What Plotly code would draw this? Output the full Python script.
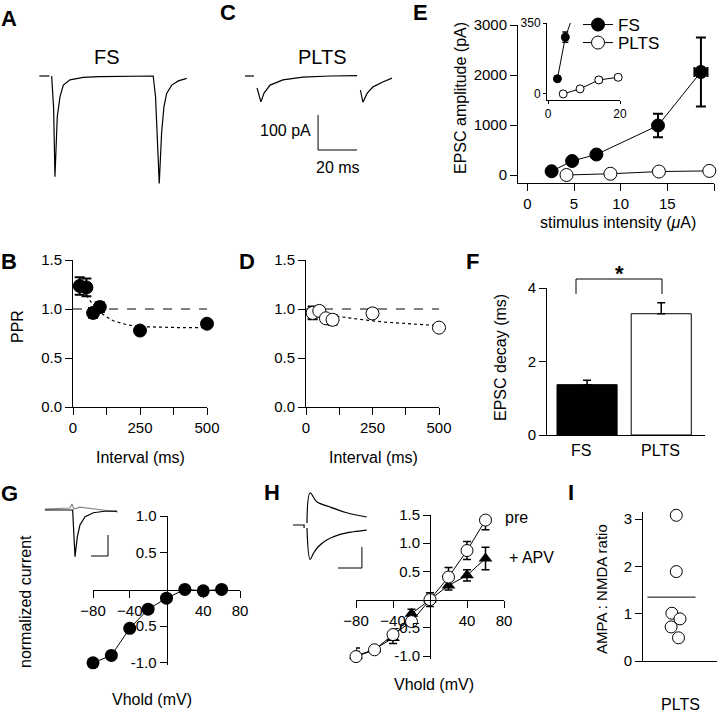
import plotly.graph_objects as go

W, H = 720, 712
FONT = "Liberation Sans, Arial, sans-serif"

# ---------------- data ----------------
# Panel A: FS example EPSC pair (time ms, current pA)
fs_base_t = [-7.0, -1.9]
fs_base_i = [0, 0]
fs_t = [-0.7, 0.3, 1.0, 1.6, 2.2, 3.6, 5.3, 8.7, 15.5, 24, 35, 45, 51.4, 52.6, 53.6, 54.5,
        55.7, 56.9, 58.3, 60.9, 64.3, 68.6]
fs_i = [0, -90, -288, -200, -116, -59, -26, -11, -4, -2, -1, 0, 0, -60, -220, -307,
        -163, -88, -50, -26, -14, -7]

# Panel C: PLTS example EPSC pair
plts_base_t = [-6.7, -2.1]
plts_base_i = [0, 0]
plts_t = [-0.5, 1.5, 3.1, 6.2, 12.8, 23, 37, 50.8, None, 52.5, 53.8, 56, 59, 64, 68.7]
plts_i = [-34, -74, -49, -26, -11, -3, 0, 1, None, -40, -75, -49, -31, -17, -6]
scale_t = [30.8, 30.8, 50.8]          # 20 ms
scale_i = [-111.4, -211.4, -211.4]    # 100 pA

# Panel E: EPSC amplitude vs stimulus intensity
fs_stim = [2.6, 4.8, 7.4, 14.0, 18.6]
fs_amp = [75, 280, 410, 990, 2060]
fs_amp_err = [12, 25, 30, 235, 690]
fs_stim_err = [0.1, 0.1, 0.1, 0.2, 0.7]
plts_stim = [4.2, 8.9, 14.1, 19.5]
plts_amp = [0, 25, 69, 82]
plts_amp_err = [8, 8, 12, 10]
plts_stim_err = [0.1, 0.2, 0.5, 0.5]

# Panels B / D: paired-pulse ratio
interval = [25, 50, 75, 100, 250, 500]
fs_ppr = [1.235, 1.22, 0.96, 1.02, 0.78, 0.85]
fs_ppr_err = [0.09, 0.09, 0.05, 0.05, 0.03, 0.02]
plts_ppr = [0.96, 0.98, 0.905, 0.89, 0.955, 0.81]
plts_ppr_err = [0.065, 0.04, 0.04, 0.05, 0.04, 0.02]
ref_x = [0, 500]
ref_y = [1.0, 1.0]
fs_fit_x = [50, 75, 100, 125, 150, 200, 250, 300, 400, 500]
fs_fit_y = [1.14, 1.04, 0.97, 0.92, 0.88, 0.84, 0.82, 0.815, 0.81, 0.81]
plts_fit_x = [25, 100, 200, 300, 400, 500]
plts_fit_y = [0.96, 0.93, 0.895, 0.865, 0.845, 0.83]

# Panel F: EPSC decay
cells = ["FS", "PLTS"]
decay = [1.37, 3.3]
decay_err = [0.12, 0.3]

# Panel G: FS I-V
vhold = [-80, -60, -40, -20, 0, 20, 40, 60]
g_norm = [-1.0, -0.9, -0.53, -0.27, -0.12, 0.0, -0.02, 0.0]
# G inset traces (ms, pA)
gi_t1 = [-17.1, -0.8, 0.6, 1.2, 1.96, 3.5, 6.5, 11.4, 18, 25.3]
gi_i1 = [0, 0, -445, -381, -254, -143, -64, -26, -12, -10]
gi_t2 = [-17.1, -2.4, -1.2, 0, 3.5, 15.3, 25.9]
gi_i2 = [9, 19, 57, 9, 28, 0, -19]
gsb_t = [20, 20, 10]
gsb_i = [-238, -438, -438]

# Panel H: PLTS I-V, pre and + APV
h_pre = [-1.01, -0.89, -0.62, -0.39, 0.0, 0.40, 0.87, 1.41]
h_pre_err = [0.15, 0.06, 0.07, 0.08, 0.12, 0.17, 0.16, 0.17]
h_apv = [-1.0, -0.88, -0.68, -0.25, 0.0, 0.25, 0.43, 0.73]
h_apv_err = [0.08, 0.05, 0.1, 0.08, 0.08, 0.08, 0.1, 0.2]
# H inset traces
hi_base_t = [-5.4, -0.8, -0.8]
hi_base_i = [0, 0, -28]
hi_up_t = [0.4, 1.7, 4.5, 10, 17, 25.3]
hi_up_i = [19, 305, 222, 171, 117, 76]
hi_dn_t = [0.4, 1.7, 3.1, 5.1, 8.6, 14.2, 19.7, 25.3]
hi_dn_i = [-28, -328, -270, -207, -143, -89, -64, -48]
hsb_t = [23.3, 23.3, 13.3]
hsb_i = [-209.5, -409.5, -409.5]

# Panel I: AMPA:NMDA ratio
ratio = [3.08, 1.89, 1.01, 0.89, 0.72, 0.49]
ratio_x = [0, 0, -0.06, 0.05, -0.07, 0.03]
mean_x = [-0.39, 0.26]
mean_y = [1.35, 1.35]

# ---------------- helpers ----------------
def xd(a, b):
    return [a / W, b / W]


def yd(top, bottom):
    return [1 - bottom / H, 1 - top / H]


def ax(**kw):
    d = dict(showline=True, linecolor="black", linewidth=1, ticks="outside", ticklen=7,
             tickwidth=1, tickcolor="black", showgrid=False, zeroline=False,
             tickfont=dict(family=FONT, size=15, color="black"), fixedrange=True)
    d.update(kw)
    return d


def hidden(**kw):
    d = dict(visible=False, showgrid=False, zeroline=False, fixedrange=True)
    d.update(kw)
    return d


def err(arr, width=4, thick=1.5, **kw):
    d = dict(type="data", array=arr, color="black", thickness=thick, width=width, visible=True)
    d.update(kw)
    return d


BLK = dict(color="black", width=1.2)
fig = go.Figure()


def add(tr):
    fig.add_trace(tr)


# A
add(go.Scatter(x=fs_base_t, y=fs_base_i, mode="lines", line=BLK, xaxis="x", yaxis="y", showlegend=False))
add(go.Scatter(x=fs_t, y=fs_i, mode="lines", line=BLK, xaxis="x", yaxis="y", showlegend=False))
# C
add(go.Scatter(x=plts_base_t, y=plts_base_i, mode="lines", line=BLK, xaxis="x2", yaxis="y2", showlegend=False))
add(go.Scatter(x=plts_t, y=plts_i, mode="lines", line=BLK, xaxis="x2", yaxis="y2", showlegend=False,
               connectgaps=False))
add(go.Scatter(x=scale_t, y=scale_i, mode="lines", line=dict(color="black", width=1), xaxis="x2",
               yaxis="y2", showlegend=False))

# E main
add(go.Scatter(x=fs_stim, y=fs_amp, mode="lines+markers", name="FS", legend="legend",
               line=dict(color="black", width=1),
               marker=dict(size=13, color="black", line=dict(color="black", width=1)),
               error_y=err(fs_amp_err, width=5, thick=2), error_x=err(fs_stim_err, width=5, thick=2),
               xaxis="x3", yaxis="y3", cliponaxis=False))
add(go.Scatter(x=plts_stim, y=plts_amp, mode="lines+markers", name="PLTS", legend="legend2",
               line=dict(color="black", width=1),
               marker=dict(size=13, color="white", line=dict(color="black", width=1)),
               error_y=err(plts_amp_err, width=5), xaxis="x3", yaxis="y3", cliponaxis=False))
# E inset
add(go.Scatter(x=fs_stim, y=fs_amp, mode="lines+markers", showlegend=False,
               line=dict(color="black", width=1),
               marker=dict(size=8, color="black", line=dict(color="black", width=1)),
               error_y=err([12, 25, 30, 235, 690], width=3), error_x=err([0.3, 0.3, 0.3, 0.3, 0.3], width=3),
               xaxis="x4", yaxis="y4", cliponaxis=True))
add(go.Scatter(x=plts_stim, y=plts_amp, mode="lines+markers", showlegend=False,
               line=dict(color="black", width=1),
               marker=dict(size=8, color="white", line=dict(color="black", width=1)),
               error_y=err([4, 6, 12, 10], width=3), error_x=err([0.2, 0.3, 0.8, 0.8], width=3),
               xaxis="x4", yaxis="y4", cliponaxis=False))

# B
add(go.Scatter(x=ref_x, y=ref_y, mode="lines", line=dict(color="black", width=1, dash="dash"),
               xaxis="x5", yaxis="y5", showlegend=False))
add(go.Scatter(x=fs_fit_x, y=fs_fit_y, mode="lines", line=dict(color="black", width=1.2, dash="dot"),
               xaxis="x5", yaxis="y5", showlegend=False))
add(go.Scatter(x=interval, y=fs_ppr, mode="markers",
               marker=dict(size=13, color="black", line=dict(color="black", width=1)),
               error_y=err(fs_ppr_err, width=5, thick=2), xaxis="x5", yaxis="y5", showlegend=False,
               cliponaxis=False))
# D
add(go.Scatter(x=ref_x, y=ref_y, mode="lines", line=dict(color="black", width=1, dash="dash"),
               xaxis="x6", yaxis="y6", showlegend=False))
add(go.Scatter(x=plts_fit_x, y=plts_fit_y, mode="lines", line=dict(color="black", width=1.2, dash="dot"),
               xaxis="x6", yaxis="y6", showlegend=False))
add(go.Scatter(x=interval, y=plts_ppr, mode="markers",
               marker=dict(size=13, color="white", line=dict(color="black", width=1)),
               error_y=err(plts_ppr_err, width=5, thick=2), xaxis="x6", yaxis="y6", showlegend=False,
               cliponaxis=False))

# F
add(go.Bar(x=cells, y=decay, width=0.81, marker=dict(color=["black", "white"], line=dict(color="black", width=1)),
           error_y=dict(type="data", symmetric=False, array=decay_err, arrayminus=[0, 0], color="black",
                        thickness=1.5, width=4),
           xaxis="x7", yaxis="y7", showlegend=False))

# G
add(go.Scatter(x=vhold, y=g_norm, mode="lines+markers", line=dict(color="black", width=1),
               marker=dict(size=13, color="black"), xaxis="x8", yaxis="y8", showlegend=False, cliponaxis=False))
add(go.Scatter(x=gi_t2, y=gi_i2, mode="lines", line=dict(color="#888888", width=1.2), xaxis="x9", yaxis="y9",
               showlegend=False))
add(go.Scatter(x=gi_t1, y=gi_i1, mode="lines", line=BLK, xaxis="x9", yaxis="y9", showlegend=False))
add(go.Scatter(x=gsb_t, y=gsb_i, mode="lines", line=dict(color="black", width=1), xaxis="x9", yaxis="y9",
               showlegend=False))

# H
add(go.Scatter(x=vhold, y=h_apv, mode="lines+markers", line=dict(color="black", width=1),
               marker=dict(size=12, color="black", symbol="triangle-up"),
               error_y=err(h_apv_err, width=4), xaxis="x10", yaxis="y10", showlegend=False, cliponaxis=False))
add(go.Scatter(x=vhold, y=h_pre, mode="lines+markers", line=dict(color="black", width=1),
               marker=dict(size=12, color="white", line=dict(color="black", width=1)),
               error_y=err(h_pre_err, width=4), xaxis="x10", yaxis="y10", showlegend=False, cliponaxis=False))
add(go.Scatter(x=hi_base_t, y=hi_base_i, mode="lines", line=BLK, xaxis="x11", yaxis="y11", showlegend=False))
add(go.Scatter(x=hi_up_t, y=hi_up_i, mode="lines", line=BLK, xaxis="x11", yaxis="y11", showlegend=False,
               line_shape="spline"))
add(go.Scatter(x=hi_dn_t, y=hi_dn_i, mode="lines", line=BLK, xaxis="x11", yaxis="y11", showlegend=False,
               line_shape="spline"))
add(go.Scatter(x=hsb_t, y=hsb_i, mode="lines", line=dict(color="black", width=1), xaxis="x11", yaxis="y11",
               showlegend=False))

# I
add(go.Scatter(x=mean_x, y=mean_y, mode="lines", line=dict(color="black", width=1), xaxis="x12", yaxis="y12",
               showlegend=False))
add(go.Scatter(x=ratio_x, y=ratio, mode="markers", marker=dict(size=12, color="white", line=dict(color="black", width=1)),
               xaxis="x12", yaxis="y12", showlegend=False, cliponaxis=False))

ppr_ticks = dict(tickvals=[0, 0.5, 1.0, 1.5], ticktext=["0.0", "0.5", "1.0", "1.5"])
int_ticks = dict(tickvals=[0, 125, 250, 375, 500], ticktext=["0", "", "250", "", "500"])
small = dict(family=FONT, size=12, color="black")
leg_common = dict(xanchor="left", yanchor="middle", bgcolor="rgba(0,0,0,0)",
                  font=dict(family=FONT, size=17, color="black"), tracegroupgap=0, itemwidth=30)

fig.update_layout(
    template="none", width=W, height=H, margin=dict(l=0, r=0, t=0, b=0),
    paper_bgcolor="white", plot_bgcolor="rgba(0,0,0,0)",
    font=dict(family=FONT, size=15, color="black"),
    showlegend=True,
    legend=dict(x=578 / W, y=1 - 25 / H, **leg_common),
    legend2=dict(x=578 / W, y=1 - 43 / H, **leg_common),
    xaxis=hidden(domain=xd(30, 200), range=[-11.8, 75.4], anchor="y"),
    yaxis=hidden(domain=yd(60, 190), range=[-325.7, 45.7], anchor="x"),
    xaxis2=hidden(domain=xd(235, 400), range=[-11.79, 72.82], anchor="y2"),
    yaxis2=hidden(domain=yd(60, 190), range=[-325.7, 45.7], anchor="x2"),
    xaxis3=ax(domain=xd(518, 714), range=[-1, 20], tickvals=[0, 5, 10, 15, 20], anchor="y3"),
    yaxis3=ax(domain=yd(25, 183), range=[-160, 3000], tickvals=[0, 1000, 2000, 3000], anchor="x3"),
    xaxis4=ax(domain=xd(547, 620), range=[-0.3, 20], tickvals=[0, 20], ticklen=3, tickfont=small, anchor="y4"),
    yaxis4=ax(domain=yd(23, 100), range=[-30, 350], tickvals=[0, 350], ticklen=3, tickfont=small, anchor="x4"),
    xaxis5=ax(domain=xd(73, 207), range=[0, 500], anchor="y5", **int_ticks),
    yaxis5=ax(domain=yd(260, 407), range=[0, 1.5], anchor="x5", **ppr_ticks),
    xaxis6=ax(domain=xd(306, 439), range=[0, 500], anchor="y6", **int_ticks),
    yaxis6=ax(domain=yd(260, 407), range=[0, 1.5], anchor="x6", **ppr_ticks),
    xaxis7=ax(domain=xd(547, 705), range=[-0.54, 1.59], ticks="", showticklabels=False, anchor="y7",
              type="category"),
    yaxis7=ax(domain=yd(288, 435), range=[0, 4], tickvals=[0, 2, 4], anchor="x7"),
    xaxis8=ax(domain=xd(93, 240), range=[-80, 80], tickvals=[-80, -40, 40, 80], anchor="free",
              position=1 - 589.5 / H),
    yaxis8=ax(domain=yd(516, 665), range=[-1.03, 1], tickvals=[-1, -0.5, 0.5, 1],
              ticktext=["-1.0", "-0.5", "0.5", "1.0"], anchor="free", position=166.5 / W),
    xaxis9=hidden(domain=xd(40, 125), range=[-20, 30], anchor="y9"),
    yaxis9=hidden(domain=yd(495, 565), range=[-523.8, 142.9], anchor="x9"),
    xaxis10=ax(domain=xd(356, 504), range=[-80, 80], tickvals=[-80, -40, 40, 80], anchor="free",
               position=1 - 599.6 / H),
    yaxis10=ax(domain=yd(515, 659.4), range=[-1.06, 1.5], tickvals=[-1, -0.5, 0.5, 1, 1.5],
               ticktext=["-1.0", "-0.5", "0.5", "1.0", "1.5"], anchor="free", position=430 / W),
    xaxis11=hidden(domain=xd(285, 372), range=[-8.75, 27.5], anchor="y11"),
    yaxis11=hidden(domain=yd(485, 575), range=[-476.2, 381], anchor="x11"),
    xaxis12=ax(domain=xd(643, 717), range=[-0.45, 0.55], ticks="", showticklabels=False, anchor="y12"),
    yaxis12=ax(domain=yd(512, 661), range=[0, 3.15], tickvals=[0, 1, 2, 3], anchor="x12"),
)


def label(text, x, y, size=16, bold=False, angle=0, xanchor="center", yanchor="middle"):
    fig.add_annotation(text=("<b>%s</b>" % text) if bold else text, x=x / W, y=1 - y / H,
                       xref="paper", yref="paper", showarrow=False, textangle=angle,
                       font=dict(family=FONT, size=size, color="black"),
                       xanchor=xanchor, yanchor=yanchor)


# panel letters
for t, x, y in [("A", 9, 18), ("C", 228, 13), ("E", 420, 12), ("B", 9, 261), ("D", 247, 261),
                ("F", 472, 261), ("G", 9, 493), ("H", 272, 492), ("I", 571, 492)]:
    label(t, x, y, size=22, bold=True)

label("FS", 107, 57, size=20)
label("PLTS", 322, 57, size=20)
label("100 pA", 313, 130, size=16, xanchor="right")
label("20 ms", 338, 167, size=16)

label("EPSC amplitude (pA)", 461, 98, angle=-90)
label("stimulus intensity (<i>μ</i>A)", 618, 223)
label("PPR", 17, 327, angle=-90)
label("Interval (ms)", 140, 457)
label("Interval (ms)", 373, 457)
label("EPSC decay (ms)", 501, 358, angle=-90)
label("FS", 581, 450)
label("PLTS", 660, 450)
label("*", 619, 273, size=22, bold=True)
label("normalized current", 25, 602, angle=-90)
label("Vhold (mV)", 152, 699)
label("Vhold (mV)", 434, 684)
label("pre", 503, 517, xanchor="left")
label("+ APV", 507, 557, xanchor="left")
label("AMPA : NMDA ratio", 601, 589, size=15, angle=-90)
label("PLTS", 680, 704)

# significance bracket in F
for x0, y0, x1, y1 in [(576, 294, 576, 279), (576, 279, 662, 279), (662, 279, 662, 294)]:
    fig.add_shape(type="line", xref="paper", yref="paper", x0=x0 / W, y0=1 - y0 / H, x1=x1 / W,
                  y1=1 - y1 / H, line=dict(color="black", width=1))

fig.write_html("out.html", config={"displayModeBar": False},
               post_script="document.body.style.margin='0';document.body.style.overflow='hidden';")
